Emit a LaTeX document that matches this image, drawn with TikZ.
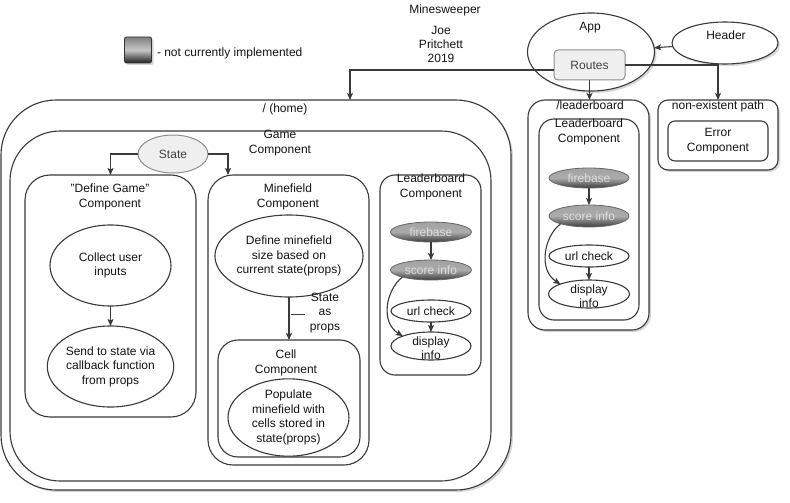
\documentclass[tikz,border=0pt]{standalone}
\usepackage{fontspec}
\setmainfont{Liberation Sans}
\usetikzlibrary{shapes.geometric,arrows.meta,shadows}

\definecolor{ink}{HTML}{141414}
\definecolor{wire}{HTML}{3A3A3A}
\definecolor{softfill}{HTML}{EFEFEF}
\definecolor{softline}{HTML}{8E8E8E}
\definecolor{paletext}{HTML}{DCDCDC}

\tikzset{
  every node/.style={font=\fontsize{12}{14.5}\selectfont, text=ink, inner sep=0pt, outer sep=0pt},
  frame/.style={draw=wire, line width=1.1pt, fill=white, rounded corners=#1},
  frame/.default=20pt,
  oval/.style={ellipse, draw=wire, line width=1.1pt, fill=white, align=center},
  ghost/.style={ellipse, draw=black!60, line width=0.8pt, top color=black!36, bottom color=black!76, middle color=black!33, text=paletext},
  soft/.style={draw=softline, line width=1pt, fill=softfill, text=black!75},
  label/.style={align=center},
  dropped/.style={drop shadow={shadow xshift=2pt, shadow yshift=-2pt, opacity=0.3, fill=black!55}},
  link/.style={draw=wire, line width=1.1pt, -{Stealth[length=7pt, width=6pt, inset=1.5pt]}},
}

\begin{document}
\begin{tikzpicture}[x=1pt, y=-1pt]
  \useasboundingbox (0,0) rectangle (790,503);

  % heading and legend
  \node[label] (title) at (445,10) {Minesweeper};
  \node[label, font=\fontsize{12}{14}\selectfont] (author) at (441,44) {Joe\\Pritchett\\2019};
  \node[dropped, draw=black!80, line width=0.8pt, rounded corners=2pt, minimum width=27pt, minimum height=26pt,
        top color=black!50, bottom color=black!88, middle color=black!22] (legend) at (138,50) {};
  \node[anchor=west] (legendtext) at (157,53) {- not currently implemented};

  % application shell
  \node[oval, dropped, minimum width=127pt, minimum height=78pt] (app) at (591,52) {};
  \node[label] (applabel) at (590,28) {App};
  \node[oval, dropped, minimum width=106pt, minimum height=42pt] (header) at (725,43) {};
  \node[label] (headerlabel) at (726,35) {Header};
  \node[soft, rounded corners=4pt, minimum width=71pt, minimum height=30pt] (routes) at (589.5,65) {Routes};

  % home route
  \node[frame=55pt, dropped, minimum width=510pt, minimum height=390pt] (home) at (256,295) {};
  \node[label] (homelabel) at (285,109) {/ (home)};
  \node[frame=50pt, minimum width=481pt, minimum height=350pt] (game) at (250.5,306) {};
  \node[label] (gamelabel) at (280,143) {Game\\Component};

  \node[oval, soft, minimum width=70pt, minimum height=38pt] (state) at (173,154) {State};

  \node[frame=25pt, minimum width=171pt, minimum height=242pt] (defgame) at (110.5,296) {};
  \node[label] (defgamelabel) at (110,197) {\symbol{34}Define Game\symbol{34}\\Component};
  \node[oval, minimum width=121pt, minimum height=81pt] (collect) at (110.5,265.5) {Collect user\\inputs};
  \node[oval, minimum width=121pt, minimum height=81pt] (send) at (110.5,366.5) {Send to state via\\callback function\\from props};

  \node[frame=25pt, minimum width=161pt, minimum height=290pt] (minefield) at (288.5,320) {};
  \node[label] (minefieldlabel) at (288,197) {Minefield\\Component};
  \node[oval, minimum width=132pt, minimum height=82pt] (define) at (289,256) {Define minefield\\size based on\\current state(props)};
  \node[frame=20pt, minimum width=142pt, minimum height=117pt] (cell) at (289,398.5) {};
  \node[label] (celllabel) at (286,363) {Cell\\Component};
  \node[oval, minimum width=121pt, minimum height=71pt] (populate) at (288.5,417.5) {Populate\\minefield with\\cells stored in\\state(props)};

  \node[frame=15pt, minimum width=101pt, minimum height=200pt] (lbhome) at (430.5,275) {};
  \node[label] (lbhomelabel) at (431,187) {Leaderboard\\Component};
  \node[ghost, minimum width=81pt, minimum height=20pt] (hfire) at (431,232) {firebase};
  \node[ghost, minimum width=81pt, minimum height=20pt] (hscore) at (431,270) {score info};
  \node[oval, minimum width=80pt, minimum height=22pt] (hurl) at (431,311) {url check};
  \node[oval, minimum width=80pt, minimum height=28pt] (hshow) at (431,346) {};
  \node[label] (hshowlabel) at (431,348) {display\\info};

  % leaderboard route
  \node[frame=17pt, dropped, minimum width=121pt, minimum height=230pt] (lbroute) at (588.5,215) {};
  \node[label] (lbroutelabel) at (590,105) {/leaderboard};
  \node[frame=15pt, minimum width=100pt, minimum height=201pt] (lbcomp) at (589,219.5) {};
  \node[label] (lbcomplabel) at (589,132) {Leaderboard\\Component};
  \node[ghost, minimum width=80pt, minimum height=20pt] (rfire) at (589,178) {firebase};
  \node[ghost, minimum width=80pt, minimum height=22pt] (rscore) at (589,216) {score info};
  \node[oval, minimum width=80pt, minimum height=22pt] (rurl) at (589,256) {url check};
  \node[oval, minimum width=81pt, minimum height=28pt] (rshow) at (589,294) {};
  \node[label] (rshowlabel) at (589,296) {display\\info};

  % fallback route
  \node[frame=10pt, dropped, minimum width=120pt, minimum height=70pt] (nopath) at (718,135) {};
  \node[label] (nopathlabel) at (718,106) {non-existent path};
  \node[frame=7pt, minimum width=100pt, minimum height=40pt, align=center] (errcomp) at (718,141) {Error\\Component};

  % connectors
  \draw[link] (header) -- (app);
  \draw[link] ([yshift=-5pt]routes.west) -| ([xshift=94pt]home.north);
  \draw[link] (routes.south) -- (routes.south |- lbroute.north);
  \draw[link] (routes.east) -| (nopath.north);

  \draw[link] (state.west) -| (defgame.north);
  \draw[link] (state.east) -| ([xshift=-60.5pt]minefield.north);
  \draw[link] (collect) -- (send);
  \draw[link] (define) -- (cell);
  \node[label] (propslabel) at (325,313) {State\\as\\props};
  \coordinate (dashA) at (291,314);
  \coordinate (dashB) at (305,314);
  \draw[wire, line width=1pt] (dashA) -- (dashB);

  \draw[link] (hfire) -- (hscore);
  \draw[link] (hurl) -- (hshow);
  \draw[link] (hscore.south west) .. controls (386,290) and (380,322) .. (hshow.north west);

  \draw[link] (rfire) -- (rscore);
  \draw[link] (rurl) -- (rshow);
  \draw[link] (rscore.south west) .. controls (544,236) and (538,270) .. (rshow.north west);
\end{tikzpicture}
\end{document}
